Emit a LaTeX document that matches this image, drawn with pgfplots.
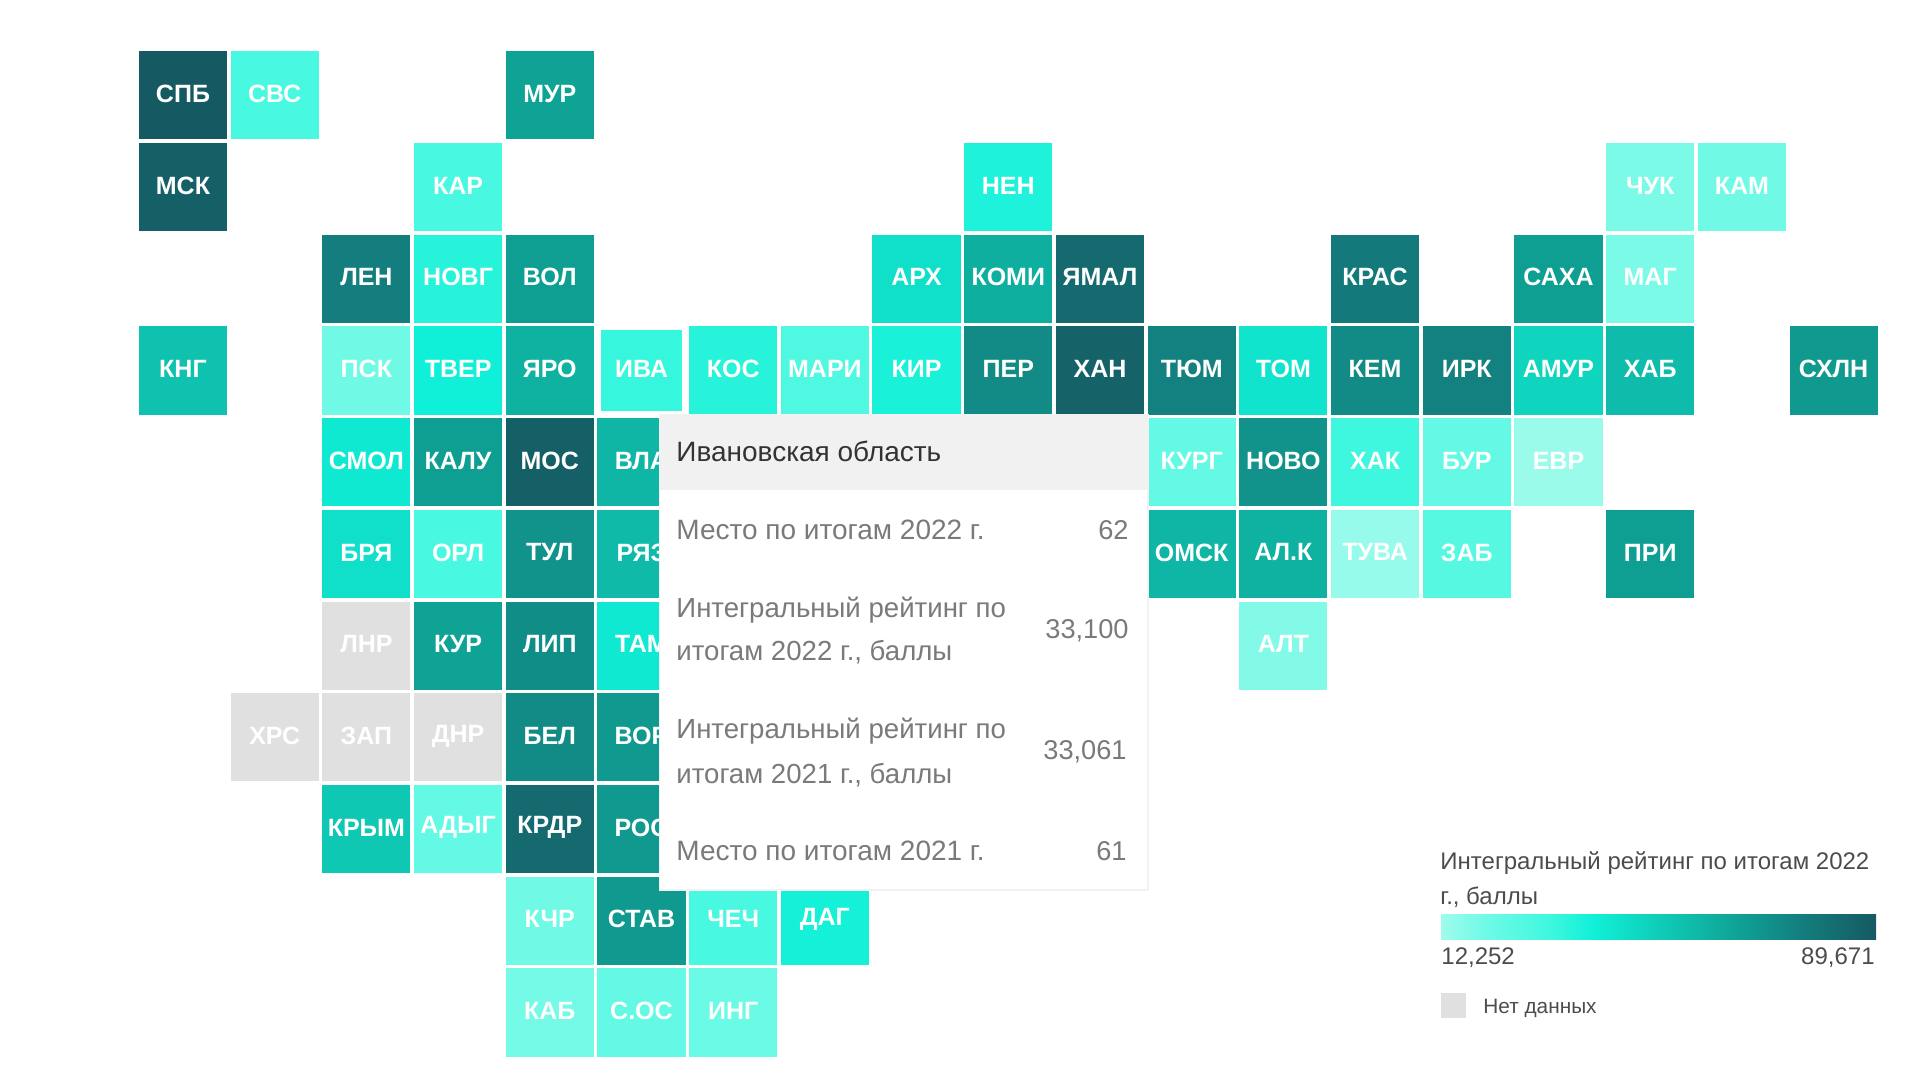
\documentclass[border=0pt]{standalone}
\usepackage{fontspec}
\setmainfont{Liberation Sans}
\usepackage{pgfplots}
\usepackage{pgfplotstable}
\pgfplotsset{compat=1.18}

\definecolor{tipgrey}{HTML}{F1F1F1}
\definecolor{tiptext}{HTML}{7A7A7A}
\definecolor{nodata}{HTML}{E0E0E0}
\newcommand{\fs}[1]{\fontsize{#1}{#1}\selectfont}

% col row value (rating read off the colour scale) short name
\pgfplotstableread{
col row val name
0 0 89.67 СПБ
1 0 29.3 СВС
4 0 64.9 МУР
0 1 87.3 МСК
3 1 29.3 КАР
9 1 37.0 НЕН
16 1 18.4 ЧУК
17 1 20.0 КАМ
2 2 76.5 ЛЕН
3 2 35.5 НОВГ
4 2 66.4 ВОЛ
8 2 44.8 АРХ
9 2 61.0 КОМИ
10 2 83.5 ЯМАЛ
13 2 78.0 КРАС
15 2 66.4 САХА
16 2 18.4 МАГ
0 3 54.8 КНГ
2 3 20.0 ПСК
3 3 39.3 ТВЕР
4 3 60.2 ЯРО
6 3 35.5 КОС
7 3 27.7 МАРИ
8 3 37.8 КИР
9 3 72.6 ПЕР
10 3 86.6 ХАН
11 3 75.7 ТЮМ
12 3 43.2 ТОМ
13 3 72.6 КЕМ
14 3 75.7 ИРК
15 3 48.6 АМУР
16 3 56.4 ХАБ
18 3 68.0 СХЛН
2 4 41.7 СМОЛ
3 4 66.4 КАЛУ
4 4 87.3 МОС
5 4 58.7 ВЛА
11 4 23.1 КУРГ
12 4 70.3 НОВО
13 4 31.6 ХАК
14 4 23.1 БУР
15 4 13.0 ЕВР
2 5 44.8 БРЯ
3 5 29.3 ОРЛ
4 5 70.3 ТУЛ
5 5 57.1 РЯЗ
11 5 58.7 ОМСК
12 5 60.2 АЛ.К
13 5 13.8 ТУВА
14 5 26.2 ЗАБ
16 5 66.4 ПРИ
3 6 64.9 КУР
4 6 71.9 ЛИП
5 6 41.7 ТАМ
12 6 16.9 АЛТ
4 7 72.6 БЕЛ
5 7 68.0 ВОР
2 8 52.5 КРЫМ
3 8 23.1 АДЫГ
4 8 83.5 КРДР
5 8 68.0 РОС
4 9 20.0 КЧР
5 9 68.0 СТАВ
6 9 29.3 ЧЕЧ
7 9 38.6 ДАГ
4 10 19.2 КАБ
5 10 23.1 С.ОС
6 10 21.5 ИНГ
}\tiles

% regions without data
\pgfplotstableread{
col row name
2 6 ЛНР
1 7 ХРС
2 7 ЗАП
3 7 ДНР
}\nodatatiles

% hovered region, drawn a little smaller
\pgfplotstableread{
col row val name
5 3 33.1 ИВА
}\hovered

\begin{document}
\begin{tikzpicture}
  \path (0,0) rectangle (960pt,540pt);
  \begin{axis}[
      scale only axis,
      width=960pt,height=540pt,
      xmin=-1.9955,xmax=18.9425,
      ymin=-1.040,ymax=10.737,
      y dir=reverse,
      hide axis,
      clip=false,
      point meta min=12.252,point meta max=89.671,
      colormap={rating}{
        rgb255(0cm)=(160,251,236) rgb255(2cm)=(112,250,230) rgb255(5cm)=(63,247,223)
        rgb255(7cm)=(16,240,216) rgb255(10cm)=(15,205,184) rgb255(14cm)=(15,158,146)
        rgb255(17cm)=(20,121,122) rgb255(20cm)=(21,90,98)
      },
      colorbar horizontal,
      colorbar style={
        at={(0.7505,0.1528)},anchor=north west,
        scale only axis,width=217.5pt,height=12.5pt,
        xtick=\empty,ytick=\empty,
        axis line style={draw=none},
      },
      tile/.style={scatter,only marks,mark=square*,point meta=explicit,
        scatter/use mapped color={draw=mapped color,fill=mapped color},
        mark options={line width=0pt}},
      names/.style={only marks,mark=none,point meta=explicit symbolic,
        nodes near coords,
        nodes near coords style={anchor=center,yshift=0.7pt,text=white,font=\fs{12.5}\bfseries}},
    ]
    \addplot[tile,mark size=21.8pt] table[x=col,y=row,meta=val]{\tiles};
    \addplot[only marks,mark=square*,mark size=21.8pt,
      mark options={draw=nodata,fill=nodata,line width=0pt}]
      table[x=col,y=row]{\nodatatiles};
    \addplot[tile,mark size=20pt] table[x=col,y=row,meta=val]{\hovered};
    \addplot[names] table[x=col,y=row,meta=name]{\tiles};
    \addplot[names] table[x=col,y=row,meta=name]{\nodatatiles};
    \addplot[names] table[x=col,y=row,meta=name]{\hovered};
  \end{axis}

  % tooltip and legend text, in reference pixels
  \begin{scope}[x=0.5pt,y=-0.5pt,yshift=540pt]
    \fill[black!5] (659,414) rectangle (1149,891);
    \fill[white] (660,414) rectangle (1147,889);
    \fill[tipgrey] (660,414) rectangle (1147,490);
    \tikzset{tip/.style={anchor=west,inner sep=0pt,text=tiptext,font=\fs{13.8}},
             tipr/.style={anchor=east,inner sep=0pt,text=tiptext,font=\fs{13.6}},
             leg/.style={anchor=west,inner sep=0pt,text=black!70,font=\fs{12}}}
    \node[tip,text=black!80,font=\fs{14}] at (676,451) {Ивановская область};
    \node[tip,font=\fs{14}] at (676,530) {Место по итогам 2022 г.};
    \node[tipr] at (1129,530) {62};
    \node[tip] at (676,610) {Интегральный рейтинг по};
    \node[tip] at (676,652) {итогам 2022 г., баллы};
    \node[tipr] at (1129,631) {33,100};
    \node[tip] at (676,731) {Интегральный рейтинг по};
    \node[tip] at (676,775) {итогам 2021 г., баллы};
    \node[tipr] at (1127,752) {33,061};
    \node[tip,font=\fs{14}] at (676,851) {Место по итогам 2021 г.};
    \node[tipr] at (1127,851) {61};

    \node[leg] at (1440,863) {Интегральный рейтинг по итогам 2022};
    \node[leg] at (1440,897) {г., баллы};
    \node[leg] at (1441,958) {12,252};
    \node[leg,anchor=east] at (1875,958) {89,671};
    \fill[nodata] (1441,993) rectangle (1466,1018);
    \node[leg,font=\fs{10.4}] at (1483,1008) {Нет данных};
  \end{scope}
\end{tikzpicture}
\end{document}
